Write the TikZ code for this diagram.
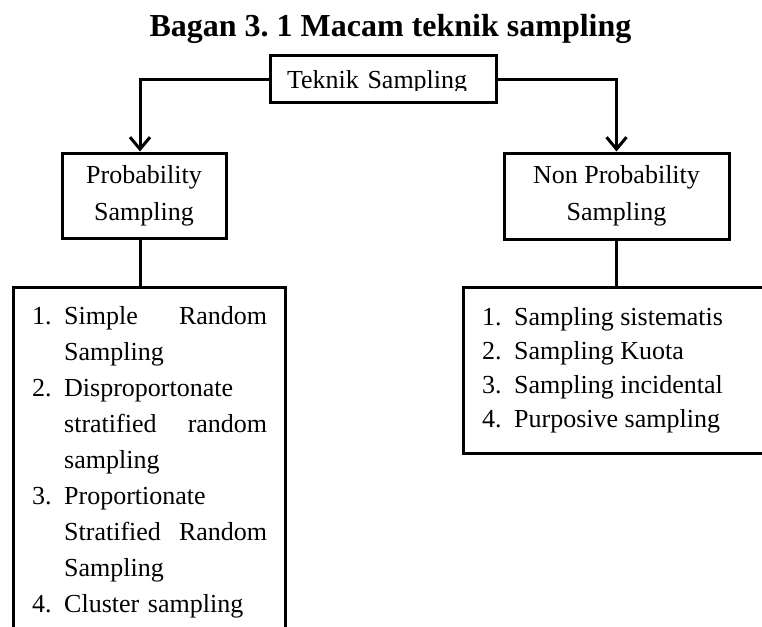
\documentclass[tikz,border=0pt]{standalone}
\usepackage{fontspec}
\setmainfont{Liberation Serif}
\usetikzlibrary{arrows.meta}
\newcommand{\listno}[1]{\makebox[32pt][l]{#1}}

\begin{document}
\begin{tikzpicture}[x=1pt,y=-1pt,
    box/.style={draw, line width=3pt, inner sep=0pt, align=center, font=\fontsize{26}{37}\selectfont},
    listbox/.style={draw, line width=3pt, inner sep=0pt, outer sep=0pt, anchor=north west},
    listtext/.style={inner sep=0pt, align=left, anchor=north west},
    arr/.style={line width=3pt, -{Straight Barb[length=12pt,width=20pt]}}]
  \useasboundingbox (0,0) rectangle (762,626);
  \clip (0,0) rectangle (762,626);
  \node[anchor=base, font=\fontsize{32}{38}\selectfont\bfseries] (title) at (390.5,37) {Bagan 3.\ 1 Macam teknik sampling};
  \node[box, minimum width=226pt, minimum height=47pt, text width=192pt, inner xsep=17pt, align=left, text depth=0pt] (teknik) at (383,79) {Teknik Sampling};
  \path (teknik.base) ++(0,2.5) coordinate (cut);
  \fill[white] (cut -| teknik.west) ++(3,0) rectangle ([shift={(-3,-3)}]teknik.south east);
  \node[box, minimum width=164pt, minimum height=85pt] (prob) at (144,195.5) {Probability\\Sampling};
  \node[box, minimum width=225pt, minimum height=86pt] (nonprob) at (616.5,196) {Non Probability\\Sampling};
  \node[listbox, minimum width=272pt, minimum height=380pt] (problist) at (13,287) {};
  \node[listbox, minimum width=340pt, minimum height=166pt] (nplist) at (463,287) {};
  \node[listtext, text width=235pt, font=\fontsize{26}{36}\selectfont] (problisttext) at (32,306) {%
    \listno{1.}Simple\hfill Random\\
    \listno{}Sampling\\
    \listno{2.}Disproportonate\\
    \listno{}stratified\hfill random\\
    \listno{}sampling\\
    \listno{3.}Proportionate\\
    \listno{}Stratified\hfill Random\\
    \listno{}Sampling\\
    \listno{4.}Cluster sampling};
  \node[listtext, font=\fontsize{26}{34}\selectfont] (nplisttext) at (482,307) {%
    \listno{1.}Sampling sistematis\\
    \listno{2.}Sampling Kuota\\
    \listno{3.}Sampling incidental\\
    \listno{4.}Purposive sampling};
  \coordinate (probfoot) at ([xshift=-4pt]prob.south);
  \draw[arr] (teknik.west) -| ([xshift=-4pt]prob.north);
  \draw[arr] (teknik.east) -| (nonprob.north);
  \draw[line width=3pt] (probfoot) -- (probfoot |- problist.north);
  \draw[line width=3pt] (nonprob.south) -- (nonprob.south |- nplist.north);
\end{tikzpicture}
\end{document}
